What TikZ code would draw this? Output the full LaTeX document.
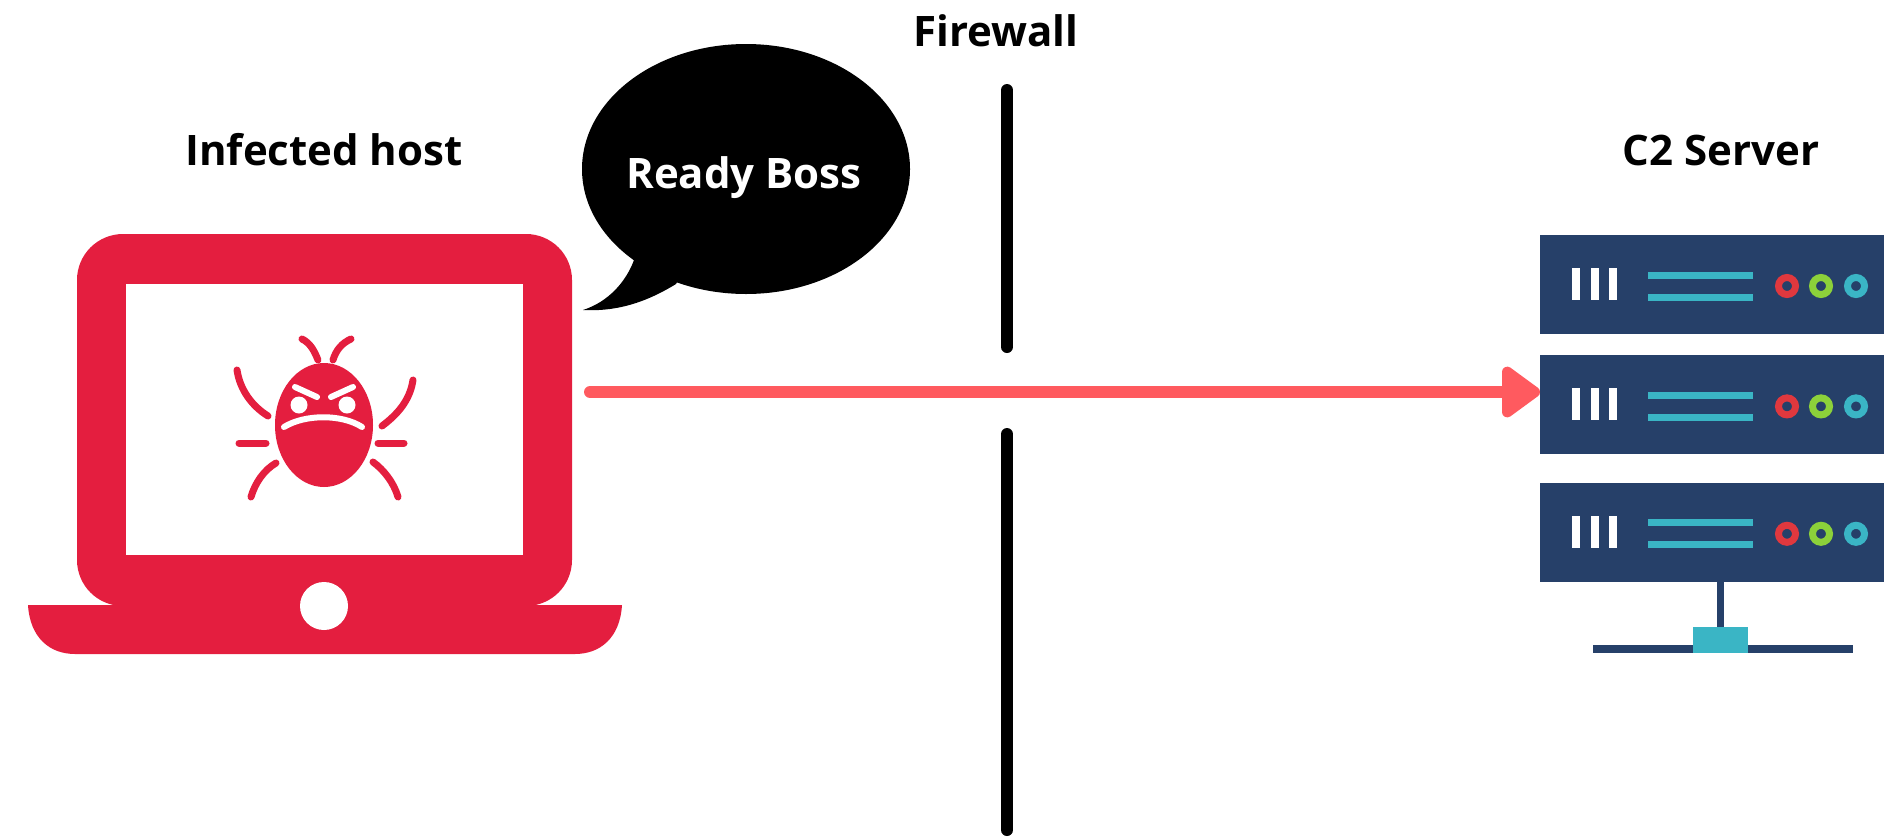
\documentclass[tikz,border=0pt]{standalone}
\usepackage{xcolor}
\usepackage{fontspec}
\setmainfont{Open Sans}
\usepackage{tikz}
\usetikzlibrary{arrows.meta, positioning, shapes.geometric}

\definecolor{lapred}{HTML}{E41E3F}
\definecolor{srvblue}{HTML}{264069}
\definecolor{srvteal}{HTML}{3AB5C5}
\definecolor{ledred}{HTML}{E0383E}
\definecolor{ledgreen}{HTML}{8CD13A}
\definecolor{arrowred}{HTML}{FF5A5F}

\tikzset{
    title/.style={font=\fontsize{42}{46}\selectfont\bfseries, inner sep=0pt},
    srvrow/.style={fill=srvblue, minimum width=344pt, minimum height=99pt, inner sep=0pt},
    wall/.style={line width=12pt, line cap=round},
    bugleg/.style={draw=lapred, line width=7pt, line cap=round},
    bugface/.style={draw=white, line width=6pt, line cap=round},
    bugeye/.style={circle, fill=white, minimum size=17pt, inner sep=0pt},
    led/.style={circle, line width=7pt, fill=srvblue, minimum size=17pt, inner sep=0pt},
}

\begin{document}
\begin{tikzpicture}[x=1pt, y=-1pt]

        \useasboundingbox (0,0) rectangle (1884,836);

        % titles
        \node[title] (host) at (324,150) {Infected host};
        \node[title] (fw) at (996,31) {Firewall};
        \node[title] (c2) at (1721,150) {C2 Server};

        % laptop
        \node[fill=lapred, rounded corners=46pt, minimum width=495pt, minimum height=372pt, inner sep=0pt] (lid) at (324.5,420) {};
        \node[fill=white, minimum width=397pt, minimum height=271pt, inner sep=0pt] (screen) at (324.5,419.5) {};
        \fill[lapred] (28,605) -- (622,605) .. controls (620,638) and (600,654) .. (575,654) -- (75,654) .. controls (50,654) and (30,638) .. (28,605) -- cycle;
        \node[circle, fill=white, minimum size=48pt, inner sep=0pt] (cam) at (324,606) {};

        % bug
        \node[ellipse, fill=lapred, minimum width=98pt, minimum height=124pt, inner sep=0pt] (bug) at (324,425) {};
        \node[bugeye] (eyel) at (299,405) {};
        \node[bugeye] (eyer) at (347,405) {};
        \draw[bugface] (295,387) -- (317,397);
        \draw[bugface] (353,387) -- (331,397);
        \draw[bugface] (284,427) .. controls (305,414) and (342,414) .. (362,427);
        \draw[bugleg] (318,360) .. controls (314,350) and (310,343) .. (302,339);
        \draw[bugleg] (333,360) .. controls (336,350) and (342,343) .. (351,339);
        \draw[bugleg] (268,416) .. controls (252,406) and (240,390) .. (237,370);
        \draw[bugleg] (382,426) .. controls (398,414) and (410,400) .. (413,380);
        \draw[bugleg] (239,443) -- (266,443);
        \draw[bugleg] (378,443) -- (404,443);
        \draw[bugleg] (276,463) .. controls (264,470) and (255,483) .. (251,497);
        \draw[bugleg] (373,462) .. controls (384,470) and (394,483) .. (398,497);

        % speech bubble
        \node[ellipse, fill=black, minimum width=328pt, minimum height=250pt, inner sep=0pt] (bubble) at (746,169) {};
        \fill (634,260) .. controls (626,282) and (608,302) .. (583,310) .. controls (620,312) and (650,300) .. (676,284) -- (700,240) -- cycle;
        \node[title, text=white] (boss) at (744,178) {Ready Boss};

        % firewall
        \coordinate (fwa) at (1007,90);
        \coordinate (fwb) at (1007,347);
        \coordinate (fwc) at (1007,434);
        \coordinate (fwd) at (1007,830);
        \draw[wall] (fwa) -- (fwb);
        \draw[wall] (fwc) -- (fwd);

        % server
        \node[srvrow, anchor=west] (srv1) at (1540,284.5) {};
        \node[srvrow] (srv2) [below=21pt of srv1.south west, anchor=north west] {};
        \node[srvrow] (srv3) [below=28pt of srv2.south west, anchor=north west] {};

        \foreach \row in {1,2,3} {
            \fill[white] ([shift={(32pt,16.5pt)}]srv\row.west) rectangle +(7.5pt,-32pt);
            \fill[white] ([shift={(51pt,16.5pt)}]srv\row.west) rectangle +(7.5pt,-32pt);
            \fill[white] ([shift={(69pt,16.5pt)}]srv\row.west) rectangle +(7.5pt,-32pt);
            \fill[srvteal] ([shift={(108pt,13pt)}]srv\row.west) rectangle +(105pt,-7pt);
            \fill[srvteal] ([shift={(108pt,-9pt)}]srv\row.west) rectangle +(105pt,-7pt);
            \node[led, draw=ledred] at ([xshift=247pt,yshift=-1.5pt]srv\row.west) {};
            \node[led, draw=ledgreen] at ([xshift=281pt,yshift=-1.5pt]srv\row.west) {};
            \node[led, draw=srvteal] at ([xshift=316pt,yshift=-1.5pt]srv\row.west) {};
        }

        \coordinate (stem) at (1720,649);
        \draw[srvblue, line width=7pt] (srv3.south -| stem) -- (stem);
        \node[minimum width=260pt, minimum height=8pt, fill=srvblue, inner sep=0pt] (rail) at (1723,649) {};
        \node[minimum width=55pt, minimum height=26pt, fill=srvteal, inner sep=0pt] (hub) at (1720.5,640) {};

        % beacon
        \coordinate (src) at (590,392);
        \draw[arrowred, line width=12pt, line cap=round, -{Triangle[round, length=42pt, width=58pt]}] (src) -- (src -| srv2.west);

\end{tikzpicture}
\end{document}
